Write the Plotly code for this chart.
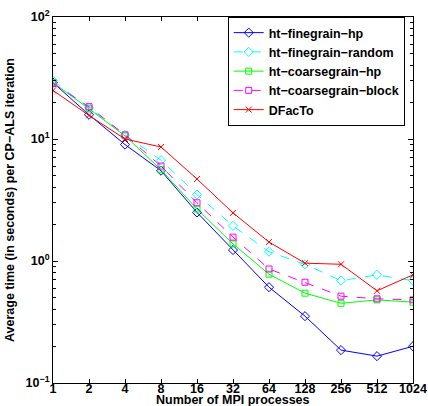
import plotly.graph_objects as go

procs = [1, 2, 4, 8, 16, 32, 64, 128, 256, 512, 1024]
tick_labels = ["1", "2", "4", "8", "16", "32", "64", "128", "256", "512", "1024"]

fine_hp = [29, 15.8, 9.0, 5.5, 2.5, 1.23, 0.61, 0.353, 0.186, 0.166, 0.20]
fine_random = [30, 18.0, 10.8, 6.7, 3.5, 1.94, 1.19, 0.94, 0.69, 0.77, 0.69]
coarse_hp = [29, 17.7, 10.6, 5.6, 2.67, 1.38, 0.78, 0.545, 0.45, 0.48, 0.46]
coarse_block = [28.5, 18.4, 10.8, 6.0, 3.0, 1.57, 0.86, 0.67, 0.515, 0.49, 0.48]
dfacto = [25, 15.6, 10.0, 8.6, 4.7, 2.48, 1.43, 0.96, 0.94, 0.57, 0.77]

series = [
    ("ht\u2212finegrain\u2212hp", fine_hp, "#0000FF", "solid", "diamond-open", 7),
    ("ht\u2212finegrain\u2212random", fine_random, "#00FFFF", "dash", "diamond-open", 7),
    ("ht\u2212coarsegrain\u2212hp", coarse_hp, "#00FF00", "solid", "square-open", 6),
    ("ht\u2212coarsegrain\u2212block", coarse_block, "#FF00FF", "dash", "square-open", 6),
    ("DFacTo", dfacto, "#FF0000", "solid", "x-thin-open", 6),
]

FAM = "Liberation Sans, Arial, sans-serif"
font = dict(family=FAM, size=12.5, color="black", weight="bold")

fig = go.Figure()
for name, vals, color, dash, sym, size in series:
    fig.add_trace(go.Scatter(
        x=procs, y=vals, name=name, mode="lines+markers",
        line=dict(color=color, width=1, dash=dash),
        marker=dict(symbol=sym, size=size, color=color, line=dict(color=color, width=1)),
    ))

fig.update_layout(
    width=428, height=406,
    margin=dict(l=53, r=15, t=17, b=23),
    paper_bgcolor="white", plot_bgcolor="white",
    font=font,
    showlegend=True,
    legend=dict(
        x=0.977, y=1.0, xanchor="right", yanchor="top",
        bgcolor="white", bordercolor="black", borderwidth=1,
        font=font, tracegroupgap=0, itemwidth=30,
    ),
    xaxis=dict(
        type="log", range=[0, 3.0103],
        tickvals=procs, ticktext=tick_labels,
        ticks="inside", ticklen=4, tickcolor="black",
        ticklabelstandoff=-6,
        showline=True, linecolor="black", linewidth=1, mirror="ticks",
        showgrid=False, zeroline=False,
        automargin=False, tickfont=font,
    ),
    yaxis=dict(
        type="log", range=[-1, 2],
        tickvals=[0.1, 1, 10, 100],
        ticktext=["10<sup>\u22121</sup>", "10<sup>0</sup>", "10<sup>1</sup>", "10<sup>2</sup>"],
        ticks="inside", ticklen=5, tickcolor="black",
        minor=dict(ticks="inside", ticklen=3, tickcolor="black",
                   tickvals=[m * 10 ** e for e in (-1, 0, 1) for m in range(2, 10)]),
        showline=True, linecolor="black", linewidth=1, mirror="ticks",
        showgrid=False, zeroline=False,
        title=dict(text="Average time (in seconds) per CP\u2212ALS iteration", standoff=8,
                   font=font),
        automargin=False, tickfont=font,
    ),
    annotations=[dict(
        text="Number of MPI processes", xref="paper", yref="paper",
        x=0.5, y=-0.046, xanchor="center", yanchor="middle",
        showarrow=False, font=font,
    )],
)

fig.write_html("out.html")
